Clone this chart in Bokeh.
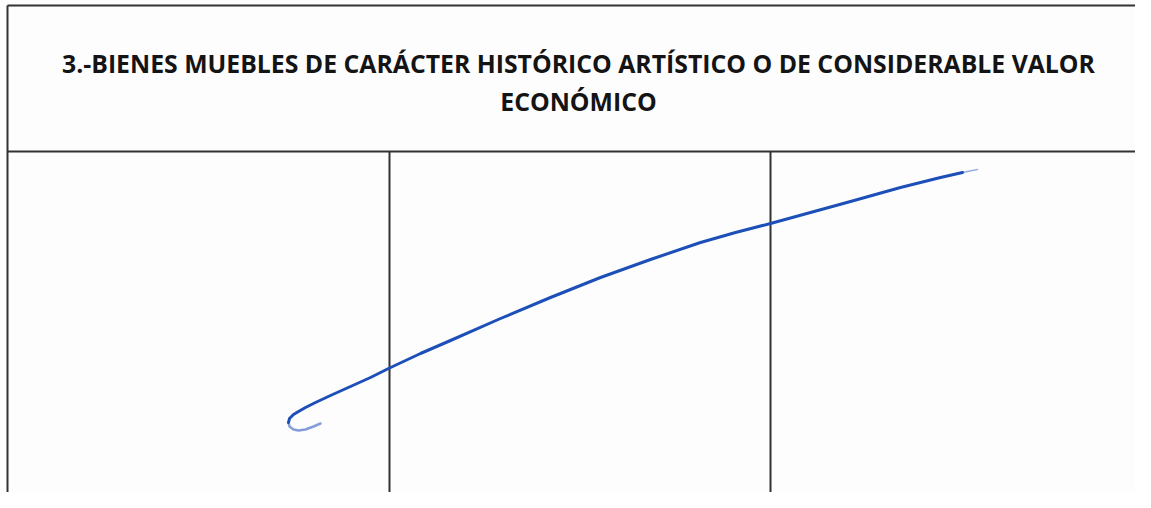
from bokeh.plotting import figure
from bokeh.models import Range1d
from bokeh.core.properties import value
from bokeh.embed import file_html
from bokeh.resources import INLINE

# ---- content ----
title_lines = ["3.-BIENES MUEBLES DE CARÁCTER HISTÓRICO ARTÍSTICO O DE CONSIDERABLE VALOR",
               "ECONÓMICO"]
title_y = [62, 100]
title_x = 578

# table grid (picture pixel coordinates)
box_left = 7
box_top = 5
header_bottom = 151
column_edges = [389, 770]
page_bottom = 492
page_right = 1135

# pen stroke (main part)
stroke_x = [288, 289, 293, 298, 305, 315, 330, 350, 370, 388, 420, 450, 500, 550,
            600, 650, 700, 735, 770, 810, 850, 900, 940, 962]
stroke_y = [422, 418, 414, 411, 407, 402, 395, 386, 377, 368, 353, 340, 318, 297,
            277, 259, 242, 232, 223, 212, 201, 187, 177, 172]
# faded ends of the stroke
hook_x = [288, 289, 293, 298, 305, 313, 320]
hook_y = [422, 426, 429, 430, 429, 426, 423]
tip_x = [940, 962, 977]
tip_y = [177, 172, 169]

W, H = 1135, 492
p = figure(width=W, height=H, output_backend="svg", toolbar_location=None,
           x_range=Range1d(0, W), y_range=Range1d(H, 0),
           min_border=0)
p.axis.visible = False
p.grid.visible = False
p.outline_line_color = None
p.background_fill_color = "#fdfdfd"
p.border_fill_color = "#fdfdfd"

lc = "#333333"
# outer top and left borders
p.segment(x0=[box_left], y0=[box_top], x1=[page_right], y1=[box_top], line_color=lc, line_width=2)
p.segment(x0=[box_left], y0=[box_top], x1=[box_left], y1=[page_bottom], line_color=lc, line_width=2)
# header bottom
p.segment(x0=[box_left], y0=[header_bottom], x1=[page_right], y1=[header_bottom], line_color=lc, line_width=2)
# column dividers
p.segment(x0=column_edges, y0=[header_bottom] * 2, x1=column_edges, y1=[page_bottom] * 2,
          line_color=lc, line_width=2)

# title
p.text(x=[title_x] * 2, y=title_y, text=title_lines, text_font=value("Open Sans"),
       text_font_style="bold", text_font_size="24.8px", text_align="center",
       text_baseline="middle", text_color="#141414")

# stroke
p.line(stroke_x, stroke_y, line_color="#1d4fb8", line_width=3, line_cap="round", line_join="round")
p.line(hook_x, hook_y, line_color="#1d4fb8", line_width=2.5, line_alpha=0.55,
       line_cap="round", line_join="round")
p.line(tip_x, tip_y, line_color="#1d4fb8", line_width=1.5, line_alpha=0.45, line_cap="round")

open("out.html", "w").write(file_html(p, INLINE))
